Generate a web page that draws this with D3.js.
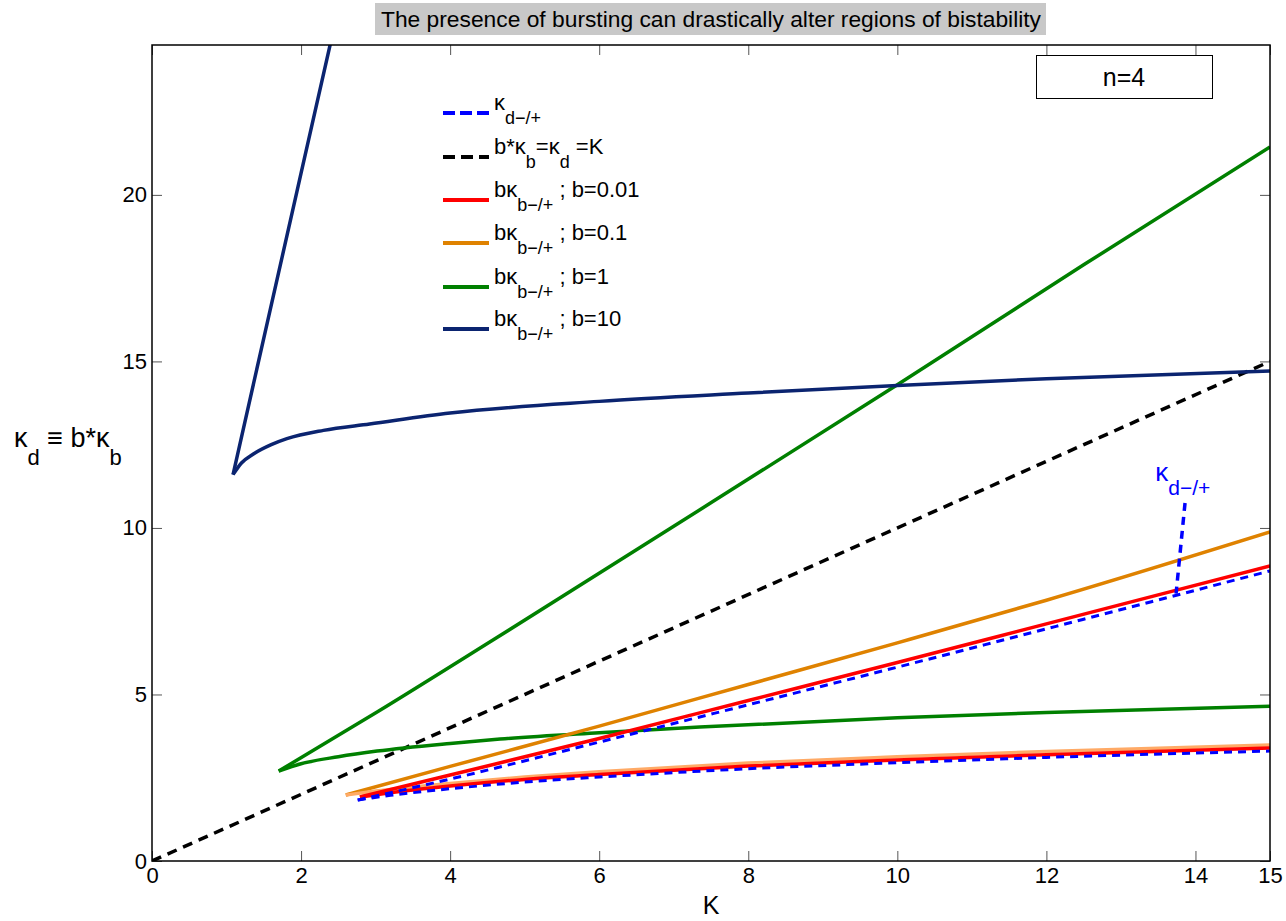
<!DOCTYPE html>
<html>
<head>
<meta charset="utf-8">
<script src="https://cdn.jsdelivr.net/npm/d3@7"></script>
<style>
  body { margin: 0; background: #fff; }
  text { font-family: "Liberation Sans", Arial, sans-serif; }
</style>
</head>
<body>
<div id="chart"></div>
<script>
// tick labels
const xTicks = [0, 2, 4, 6, 8, 10, 12, 14, 15];
const yTicks = [0, 5, 10, 15, 20];

// kappa_d-/+ (blue dashed)
const blueUpperK = [2.76, 4, 6, 8, 10, 12, 15];
const blueUpperV = [1.83, 2.46, 3.57, 4.69, 5.82, 6.97, 8.71];
const blueLowerK = [2.76, 3.2, 4, 5, 6, 8, 10, 12, 15];
const blueLowerV = [1.83, 1.97, 2.17, 2.37, 2.52, 2.77, 2.95, 3.11, 3.30];

// b = 0.01
const redUpperK = [2.79, 4, 6, 8, 10, 12, 15];
const redUpperV = [1.92, 2.58, 3.68, 4.82, 5.96, 7.12, 8.86];
const redLowerK = [2.79, 3.2, 4, 5, 6, 8, 10, 12, 15];
const redLowerV = [1.92, 2.05, 2.25, 2.45, 2.60, 2.85, 3.03, 3.19, 3.39];

// b = 0.1
const orangeUpperK = [2.6, 4, 6, 8, 10, 12, 15];
const orangeUpperV = [1.98, 2.84, 4.05, 5.30, 6.55, 7.83, 9.88];
const orangeLowerK = [2.6, 3, 4, 5, 6, 8, 10, 12, 15];
const orangeLowerV = [1.98, 2.10, 2.33, 2.52, 2.68, 2.94, 3.13, 3.29, 3.48];

// b = 1
const greenUpperK = [1.70, 3.02, 4.58, 7, 10, 12.5, 15];
const greenUpperV = [2.70, 4.47, 6.64, 10.05, 14.3, 17.9, 21.44];
const greenLowerK = [1.70, 2.0, 2.5, 3.02, 4, 4.67, 6, 7.35, 10, 12, 15];
const greenLowerV = [2.70, 2.92, 3.13, 3.30, 3.53, 3.66, 3.85, 4.02, 4.30, 4.46, 4.65];

// b = 10
const navyUpperK = [1.087, 1.5, 2.0, 2.45];
const navyUpperV = [11.6, 15.7, 20.65, 25.1];
const navyLowerK = [1.087, 1.2, 1.36, 1.6, 1.81, 2.3, 2.92, 4, 6, 8, 10, 12, 15];
const navyLowerV = [11.6, 11.95, 12.22, 12.5, 12.68, 12.93, 13.12, 13.45, 13.8, 14.05, 14.28, 14.48, 14.71];

// b*kb = kd = K
const diagK = [0, 15];

const width = 1286, height = 921;
const margin = { top: 45, right: 16, bottom: 60, left: 152 };
const iw = width - margin.left - margin.right;
const ih = height - margin.top - margin.bottom;

const svg = d3.select("#chart").append("svg")
  .attr("width", width)
  .attr("height", height);

const x = d3.scaleLinear().domain([0, 15]).range([margin.left, margin.left + iw]);
const y = d3.scaleLinear().domain([0, 24.5]).range([margin.top + ih, margin.top]);

svg.append("defs").append("clipPath").attr("id", "clip")
  .append("rect")
  .attr("x", margin.left).attr("y", margin.top)
  .attr("width", iw).attr("height", ih);

// title
svg.append("rect").attr("x", 375).attr("y", 3).attr("width", 671).attr("height", 32)
  .attr("fill", "#c8c8c8");
svg.append("text").attr("x", 711).attr("y", 27).attr("text-anchor", "middle")
  .style("font-size", "22px")
  .attr("textLength", 660).attr("lengthAdjust", "spacingAndGlyphs")
  .text("The presence of bursting can drastically alter regions of bistability");

// axes with inner ticks on all four sides
const tickLen = 10;
function styleAxis(g) {
  g.select(".domain").remove();
  g.selectAll(".tick line").attr("stroke", "#555").attr("stroke-width", 1);
  g.selectAll(".tick text").style("font-size", "22px").attr("fill", "#000")
    .style("font-family", "Liberation Sans, Arial, sans-serif");
}
svg.append("g").attr("transform", `translate(0,${margin.top + ih})`)
  .call(d3.axisBottom(x).tickValues(xTicks).tickSizeInner(-tickLen).tickSizeOuter(0).tickPadding(6).tickFormat(d3.format("d")))
  .call(styleAxis);
svg.append("g").attr("transform", `translate(0,${margin.top})`)
  .call(d3.axisTop(x).tickValues(xTicks).tickSizeInner(-tickLen).tickSizeOuter(0).tickFormat(""))
  .call(styleAxis);
svg.append("g").attr("transform", `translate(${margin.left},0)`)
  .call(d3.axisLeft(y).tickValues(yTicks).tickSizeInner(-tickLen).tickSizeOuter(0).tickPadding(5).tickFormat(d3.format("d")))
  .call(styleAxis);
svg.append("g").attr("transform", `translate(${margin.left + iw},0)`)
  .call(d3.axisRight(y).tickValues(yTicks).tickSizeInner(-tickLen).tickSizeOuter(0).tickFormat(""))
  .call(styleAxis);

// curves
const line = d3.line().x(d => x(d[0])).y(d => y(d[1])).curve(d3.curveMonotoneX);
const plot = svg.append("g").attr("clip-path", "url(#clip)");

const zipKV = (ks, vs) => ks.map((k, i) => [k, vs[i]]);

const series = [
  { k: greenUpperK, v: greenUpperV, color: "#008000" },
  { k: greenLowerK, v: greenLowerV, color: "#008000" },
  { k: navyUpperK, v: navyUpperV, color: "#0b2470" },
  { k: navyLowerK, v: navyLowerV, color: "#0b2470" },
  { k: orangeUpperK, v: orangeUpperV, color: "#df8200" },
  { k: orangeLowerK, v: orangeLowerV, color: "#ffaa66" },
  { k: redUpperK, v: redUpperV, color: "#ff0000" },
  { k: redLowerK, v: redLowerV, color: "#ff0000" }
];

plot.append("path").datum(diagK.map(k => [k, k]))
  .attr("d", d3.line().x(d => x(d[0])).y(d => y(d[1])))
  .attr("fill", "none").attr("stroke", "#000").attr("stroke-width", 3.5)
  .attr("stroke-dasharray", "10,7");

series.forEach(s => {
  plot.append("path").datum(zipKV(s.k, s.v))
    .attr("d", line)
    .attr("fill", "none").attr("stroke", s.color).attr("stroke-width", 3.5)
    .attr("stroke-linejoin", "round");
});

[[blueUpperK, blueUpperV], [blueLowerK, blueLowerV]].forEach(([ks, vs]) => {
  plot.append("path").datum(zipKV(ks, vs))
    .attr("d", line)
    .attr("fill", "none").attr("stroke", "#0000ff").attr("stroke-width", 3)
    .attr("stroke-dasharray", "8,6");
});

// axes box
svg.append("rect").attr("x", margin.left).attr("y", margin.top)
  .attr("width", iw).attr("height", ih)
  .attr("fill", "none").attr("stroke", "#000").attr("stroke-width", 1.5);

// annotation kappa_d-/+
plot.append("path").datum([[13.86, 10.75], [13.74, 8.03]])
  .attr("d", d3.line().x(d => x(d[0])).y(d => y(d[1])))
  .attr("stroke", "#0000ff").attr("stroke-width", 3.5).attr("stroke-dasharray", "8,6");
const ann = svg.append("text").attr("x", x(13.46)).attr("y", y(11.4))
  .attr("fill", "#0000ff").style("font-size", "26px");
ann.append("tspan").text("κ");
ann.append("tspan").attr("dy", 14).style("font-size", "21px").text("d−/+");

// axis labels
svg.append("text").attr("x", x(7.5)).attr("y", 914).attr("text-anchor", "middle")
  .style("font-size", "25px").text("K");
const yl = svg.append("text").attr("x", 14).attr("y", 447).style("font-size", "27px");
yl.append("tspan").text("κ");
yl.append("tspan").attr("dy", 18).style("font-size", "22px").text("d");
yl.append("tspan").attr("dy", -18).text(" ≡ b*κ");
yl.append("tspan").attr("dy", 18).style("font-size", "22px").text("b");

// n=4 box
svg.append("rect").attr("x", 1036.5).attr("y", 55.5).attr("width", 176).attr("height", 43)
  .attr("fill", "#fff").attr("stroke", "#000").attr("stroke-width", 1);
svg.append("text").attr("x", 1124).attr("y", 86).attr("text-anchor", "middle")
  .style("font-size", "25px").text("n=4");

// legend
const legendItems = [
  { color: "#0000ff", dash: "12,5", parts: [["κ", 0], ["d−/+", 1]] },
  { color: "#000", dash: "12,6", parts: [["b*κ", 0], ["b", 1], ["=κ", 0], ["d", 1], [" =K", 0]] },
  { color: "#ff0000", dash: null, parts: [["bκ", 0], ["b−/+", 1], [" ; b=0.01", 0]] },
  { color: "#df8200", dash: null, parts: [["bκ", 0], ["b−/+", 1], [" ; b=0.1", 0]] },
  { color: "#008000", dash: null, parts: [["bκ", 0], ["b−/+", 1], [" ; b=1", 0]] },
  { color: "#0b2470", dash: null, parts: [["bκ", 0], ["b−/+", 1], [" ; b=10", 0]] }
];
const legendY = [113, 157, 200, 243, 287, 329];
const lg = svg.append("g");
legendItems.forEach((it, i) => {
  const ly = legendY[i];
  lg.append("line").attr("x1", 443).attr("x2", 489).attr("y1", ly).attr("y2", ly)
    .attr("stroke", it.color).attr("stroke-width", 4)
    .attr("stroke-dasharray", it.dash);
  const t = lg.append("text").attr("x", 494).attr("y", ly - 3).style("font-size", "22px");
  let sub = 0;
  it.parts.forEach(([s, isSub]) => {
    const dy = isSub ? (sub ? 0 : 14) : (sub ? -14 : 0);
    sub = isSub;
    t.append("tspan").attr("dy", dy).style("font-size", isSub ? "18px" : "22px").text(s);
  });
});
</script>
</body>
</html>
